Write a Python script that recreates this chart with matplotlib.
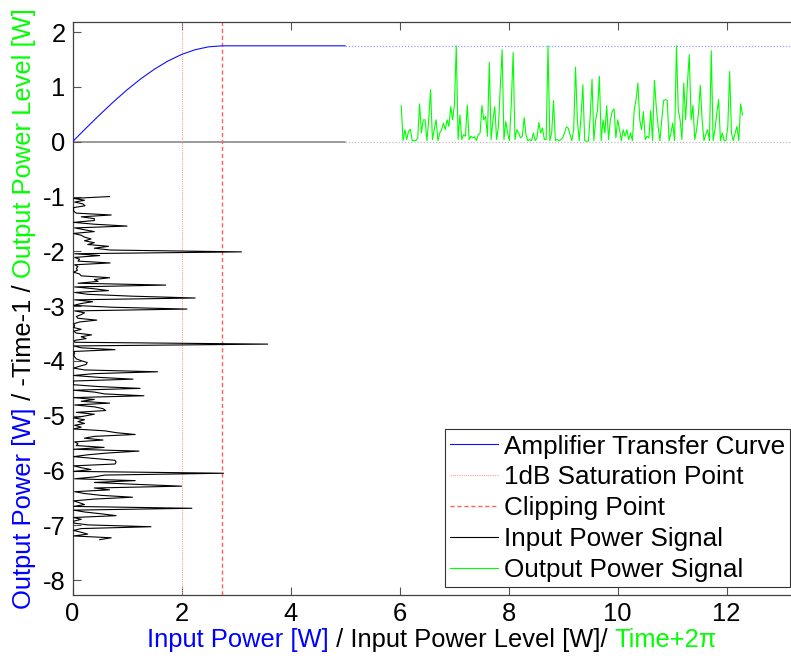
import numpy as np
import matplotlib
matplotlib.use("Agg")
import matplotlib.pyplot as plt
from matplotlib.transforms import IdentityTransform

plt.rcParams['font.family'] = ['Liberation Sans', 'DejaVu Sans']

# Amplifier transfer curve: input power [W] -> output power [W]
curve_in = [0.0, 0.25, 0.5, 0.75, 1.0, 1.25, 1.5, 1.75, 2.0, 2.25, 2.5, 2.75, 5.0]
curve_out = [0.0, 0.249, 0.493, 0.727, 0.946, 1.146, 1.322, 1.472, 1.592, 1.679,
             1.732, 1.75, 1.75]

sat_1db = 2.0        # 1 dB compression input level
clip_point = 2.75    # input level where output saturates
p_sat = 1.75         # saturated output level
curve_end = 5.0

# Sampled power signal over one period (input and amplified output)
input_power = [
    0.68, 0.02, 0.22, 0.04, 0.19, 0.23, 0.02, 0.02, 0.02, 0.07,
    0.71, 0.16, 0.40, 0.40, 0.02, 0.40, 1.00, 0.04, 0.22, 0.40,
    0.02, 0.16, 0.22, 0.34, 0.22, 0.40, 0.28, 0.66, 0.40, 0.69,
    3.10, 0.04, 0.50, 0.04, 0.13, 0.10, 0.69, 0.04, 0.10, 0.07,
    0.09, 0.02, 0.13, 0.16, 0.68, 0.40, 0.47, 0.10, 1.71, 0.04,
    0.40, 0.66, 0.04, 0.28, 1.08, 2.25, 0.04, 0.37, 0.16, 0.02,
    0.72, 2.10, 0.04, 0.22, 0.16, 0.07, 0.10, 0.445, 0.13, 0.02,
    0.04, 0.02, 0.16, 0.02, 0.07, 0.35, 0.16, 0.25, 0.04, 0.04,
    3.58, 0.02, 0.16, 0.78, 0.02, 0.04, 0.02, 0.04, 0.07, 0.16,
    0.27, 0.25, 0.13, 0.02, 0.22, 1.56, 0.40, 0.02, 0.47, 1.11,
    0.02, 0.01, 0.01, 0.47, 1.24, 0.02, 0.40, 0.59, 1.31, 0.02,
    0.40, 0.16, 0.68, 0.04, 0.40, 0.56, 0.61, 0.07, 0.40, 0.22,
    0.02, 0.22, 0.10, 0.22, 0.04, 0.16, 0.02, 0.59, 0.80, 1.15,
    0.40, 0.22, 0.56, 0.04, 0.10, 0.07, 0.58, 0.02, 1.22, 0.66,
    0.28, 0.02, 0.40, 0.78, 0.80, 0.78, 0.02, 0.16, 0.34, 0.02,
    2.77, 0.59, 0.40, 0.04, 1.15, 0.40, 1.15, 2.00, 0.40, 0.68,
    0.04, 0.22, 0.53, 1.10, 0.40, 0.02, 0.13, 0.22, 0.02, 2.19,
    0.02, 0.22, 0.53, 0.80, 0.02, 0.16, 0.02, 0.02, 0.28, 1.44,
    0.16, 0.02, 0.16, 0.28, 0.02, 0.71, 0.50,
]
output_power = [
    0.66, 0.02, 0.22, 0.04, 0.19, 0.23, 0.02, 0.02, 0.02, 0.07,
    0.69, 0.16, 0.40, 0.40, 0.02, 0.40, 0.95, 0.04, 0.22, 0.40,
    0.02, 0.16, 0.22, 0.34, 0.22, 0.40, 0.28, 0.64, 0.40, 0.67,
    1.75, 0.04, 0.49, 0.04, 0.13, 0.10, 0.67, 0.04, 0.10, 0.07,
    0.09, 0.02, 0.13, 0.16, 0.66, 0.40, 0.46, 0.10, 1.45, 0.04,
    0.40, 0.64, 0.04, 0.28, 1.01, 1.68, 0.04, 0.37, 0.16, 0.02,
    0.70, 1.63, 0.04, 0.22, 0.16, 0.07, 0.10, 0.44, 0.13, 0.02,
    0.04, 0.02, 0.16, 0.02, 0.07, 0.35, 0.16, 0.25, 0.04, 0.04,
    1.75, 0.02, 0.16, 0.75, 0.02, 0.04, 0.02, 0.04, 0.07, 0.16,
    0.27, 0.25, 0.13, 0.02, 0.22, 1.36, 0.40, 0.02, 0.46, 1.04,
    0.02, 0.01, 0.01, 0.46, 1.14, 0.02, 0.40, 0.58, 1.19, 0.02,
    0.40, 0.16, 0.66, 0.04, 0.40, 0.55, 0.60, 0.07, 0.40, 0.22,
    0.02, 0.22, 0.10, 0.22, 0.04, 0.16, 0.02, 0.58, 0.77, 1.07,
    0.40, 0.22, 0.55, 0.04, 0.10, 0.07, 0.57, 0.02, 1.12, 0.64,
    0.28, 0.02, 0.40, 0.75, 0.77, 0.75, 0.02, 0.16, 0.34, 0.02,
    1.75, 0.58, 0.40, 0.04, 1.07, 0.40, 1.07, 1.59, 0.40, 0.66,
    0.04, 0.22, 0.52, 1.03, 0.40, 0.02, 0.13, 0.22, 0.02, 1.66,
    0.02, 0.22, 0.52, 0.77, 0.02, 0.16, 0.02, 0.02, 0.28, 1.28,
    0.16, 0.02, 0.16, 0.28, 0.02, 0.69, 0.49,
]
time_start, time_end = 0.0, 6.26
time_shift = 6.03    # horizontal placement of the output trace

x_ticks = [0, 2, 4, 6, 8, 10, 12]
y_ticks = [-8, -7, -6, -5, -4, -3, -2, -1, 0, 1, 2]
x_lim = (0, 13.18)
y_lim = (-8.27, 2.19)

FS = 18.4
W, H, DPI = 791, 660, 100
fig = plt.figure(figsize=(W / DPI, H / DPI), dpi=DPI)
ax_left, ax_top, ax_bottom = 72.5, 21.7, 595
ax = fig.add_axes([ax_left / W, 1 - ax_bottom / H, 1 - ax_left / W, (ax_bottom - ax_top) / H])

t = np.linspace(time_start, time_end, len(input_power))
inp = np.asarray(input_power)
out = np.asarray(output_power)

lw = 0.8
# zero reference and saturation reference extensions
ax.plot([0, curve_end], [0, 0], color='#808080', lw=1.1, zorder=1)
ax.plot([curve_end, x_lim[1]], [0, 0], color='#bdbdbd', lw=0.9, ls=(0, (1, 1.5)), zorder=1)
ax.plot([curve_end, x_lim[1]], [p_sat, p_sat], color='#9a9aff', lw=0.9, ls=(0, (1, 1.5)), zorder=1)

ax.plot(curve_in, curve_out, color='#1010ff', lw=lw, label='Amplifier Transfer Curve', zorder=3)
ax.axvline(sat_1db, color='#ff9a9a', lw=0.8, ls=(0, (1, 1)), label='1dB Saturation Point', zorder=2)
ax.axvline(clip_point, color='#ff6060', lw=1.0, ls=(0, (3, 2)), label='Clipping Point', zorder=2)
ax.plot(inp, -(t + 1), color='black', lw=lw, label='Input Power Signal', zorder=3)
ax.plot(t + time_shift, out, color='#00ff00', lw=lw, label='Output Power Signal', zorder=3)

ax.set_xlim(*x_lim)
ax.set_ylim(*y_lim)
ax.set_xticks(x_ticks)
ax.set_yticks(y_ticks)
ax.set_xticklabels([str(v) for v in x_ticks])
ax.set_yticklabels([str(v) for v in y_ticks])
ax.tick_params(direction='in', length=6, width=0.8, color='#555555',
               labelsize=FS, top=True, right=False, pad=5)
for side in ('left', 'bottom', 'top'):
    ax.spines[side].set_color('#404040')
    ax.spines[side].set_linewidth(0.9)
ax.spines['right'].set_visible(False)

leg = ax.legend(loc='lower right', bbox_to_anchor=(790 / W, 1 - 587 / H),
                bbox_transform=fig.transFigure, borderaxespad=0, fontsize=18.8,
                handlelength=1.84, handletextpad=0.2, labelspacing=0.26,
                borderpad=0.2, fancybox=False, framealpha=1, edgecolor='#333333')
leg.get_frame().set_linewidth(0.8)

# multi-coloured axis labels
fig.canvas.draw()
renderer = fig.canvas.get_renderer()
ident = IdentityTransform()

xlabel_parts = [('Input Power [W]', '#0000ff'), (' / Input Power Level [W]/ ', 'black'),
                ('Time+2\u03c0', '#00ff00')]
ylabel_parts = [('Output Power [W]', '#0000ff'), (' / -Time-1 / ', 'black'),
                ('Output Power Level [W]', '#00ff00')]

texts = [fig.text(0, 13, s, color=c, fontsize=FS, ha='left', va='baseline',
                  transform=ident) for s, c in xlabel_parts]
widths = [tx.get_window_extent(renderer).width for tx in texts]
x0 = (ax_left + W) / 2 - sum(widths) / 2
for tx, w in zip(texts, widths):
    tx.set_x(x0)
    x0 += w

vtexts = [fig.text(31, 0, s, color=c, fontsize=FS, ha='left', va='baseline',
                   rotation=90, rotation_mode='anchor', transform=ident)
          for s, c in ylabel_parts]
heights = [tx.get_window_extent(renderer).height for tx in vtexts]
y0 = H - (ax_top + ax_bottom) / 2 - sum(heights) / 2
for tx, h in zip(vtexts, heights):
    tx.set_y(y0)
    y0 += h

fig.savefig('out.png', dpi=DPI)
